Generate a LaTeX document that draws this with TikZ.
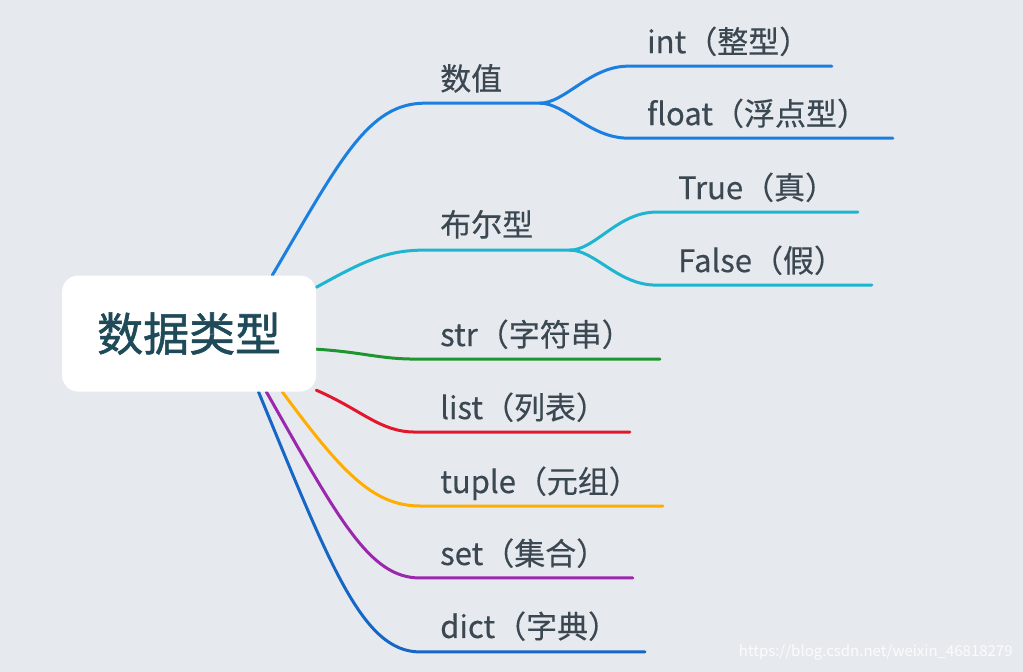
\documentclass[tikz,border=0pt]{standalone}
\usepackage{fontspec}
\setmainfont{Noto Sans CJK SC}
\newfontfamily\rootfont[FakeBold=1.2]{Noto Sans CJK SC}
\newfontfamily\lblfont[FakeBold=0.4]{Noto Sans CJK SC}
\usepackage{xcolor}
\usetikzlibrary{backgrounds}
\definecolor{bgcol}{HTML}{E6E9EE}
\definecolor{txtcol}{HTML}{3B4851}
\definecolor{rootcol}{HTML}{1E4A59}
\definecolor{numcol}{HTML}{1A7FE0}
\definecolor{boolcol}{HTML}{1DB5CF}
\definecolor{strcol}{HTML}{1F9531}
\definecolor{listcol}{HTML}{E2172C}
\definecolor{tuplecol}{HTML}{FFAD00}
\definecolor{setcol}{HTML}{9B27AF}
\definecolor{dictcol}{HTML}{1666C6}
\begin{document}
\begin{tikzpicture}[x=1pt,y=-1pt,
  branch/.style={line width=3pt,line cap=round},
  lbl/.style={anchor=base west,inner sep=0pt,text=txtcol,font=\lblfont\fontsize{31}{31}\selectfont}]
% Drawing root
\node[fill=white,rounded corners=16pt,minimum width=254pt,minimum height=116pt,inner sep=0pt,
  text=rootcol,font=\rootfont\fontsize{46}{46}\selectfont] (root) at (189.000000,333.500000) {数据类型};
% Done with root; placing forks and ends
\coordinate (numfork) at (540.000000,103.000000);
\coordinate (boolfork) at (570.000000,250.000000);
\coordinate (intend) at (832.000000,66.000000);
\coordinate (floatend) at (893.000000,138.000000);
\coordinate (trueend) at (858.000000,212.000000);
\coordinate (falseend) at (872.000000,285.000000);
\coordinate (strend) at (660.000000,359.000000);
\coordinate (listend) at (630.000000,432.000000);
\coordinate (tupleend) at (663.000000,506.000000);
\coordinate (setend) at (633.000000,578.000000);
\coordinate (dictend) at (645.000000,652.000000);
% Drawing branches
\begin{pgfonlayer}{background}
\filldraw[color=bgcol] (0.000000,0.000000) rectangle (1023.000000,671.000000);
% Branch 1: 数值
\draw[branch,numcol] (root.35) .. controls (340.000000,160.000000) and (368.000000,103.000000) .. (425.000000,103.000000) -- (numfork);
\draw[branch,numcol] (numfork) .. controls (565.000000,103.000000) and (590.000000,66.000000) .. (628.000000,66.000000) -- (intend);
\draw[branch,numcol] (numfork) .. controls (565.000000,103.000000) and (590.000000,138.000000) .. (628.000000,138.000000) -- (floatend);
% Branch 2: 布尔型
\draw[branch,boolcol] (root.20) .. controls (362.000000,262.000000) and (385.000000,250.000000) .. (425.000000,250.000000) -- (boolfork);
\draw[branch,boolcol] (boolfork) .. controls (595.000000,250.000000) and (618.000000,212.000000) .. (656.000000,212.000000) -- (trueend);
\draw[branch,boolcol] (boolfork) .. controls (595.000000,250.000000) and (618.000000,285.000000) .. (656.000000,285.000000) -- (falseend);
% Branch 3-7: str list tuple set dict
\draw[branch,strcol] (root.-7) .. controls (362.000000,352.000000) and (380.000000,359.000000) .. (415.000000,359.000000) -- (strend);
\draw[branch,listcol] (root.-24) .. controls (362.000000,410.000000) and (380.000000,432.000000) .. (415.000000,432.000000) -- (listend);
\draw[branch,tuplecol] (root.-32) .. controls (340.000000,470.000000) and (372.000000,506.000000) .. (420.000000,506.000000) -- (tupleend);
\draw[branch,setcol] (root.-37) .. controls (340.000000,522.000000) and (370.000000,578.000000) .. (420.000000,578.000000) -- (setend);
\draw[branch,dictcol] (root.-40.5) .. controls (330.000000,565.000000) and (362.000000,652.000000) .. (420.000000,652.000000) -- (dictend);
\end{pgfonlayer}
% Drawing labels
\node[lbl] (num) at (440.000000,90.000000) {数值};
\node[lbl] (int) at (647.000000,53.000000) {int（整型）};
\node[lbl] (float) at (647.000000,125.000000) {float（浮点型）};
\node[lbl] (bool) at (440.000000,236.000000) {布尔型};
\node[lbl] (true) at (678.000000,199.000000) {True（真）};
\node[lbl] (false) at (678.000000,272.000000) {False（假）};
\node[lbl] (str) at (440.000000,346.000000) {str（字符串）};
\node[lbl] (list) at (440.000000,419.000000) {list（列表）};
\node[lbl] (tuple) at (440.000000,493.000000) {tuple（元组）};
\node[lbl] (set) at (440.000000,565.000000) {set（集合）};
\node[lbl] (dict) at (440.000000,638.000000) {dict（字典）};
% Watermark
\node[anchor=east,inner sep=0pt,text=white,opacity=0.85,font=\fontsize{15}{15}\selectfont] (mark) at (1013.000000,652.000000) {https://blog.csdn.net/weixin\_46818279};
\end{tikzpicture}
\end{document}
